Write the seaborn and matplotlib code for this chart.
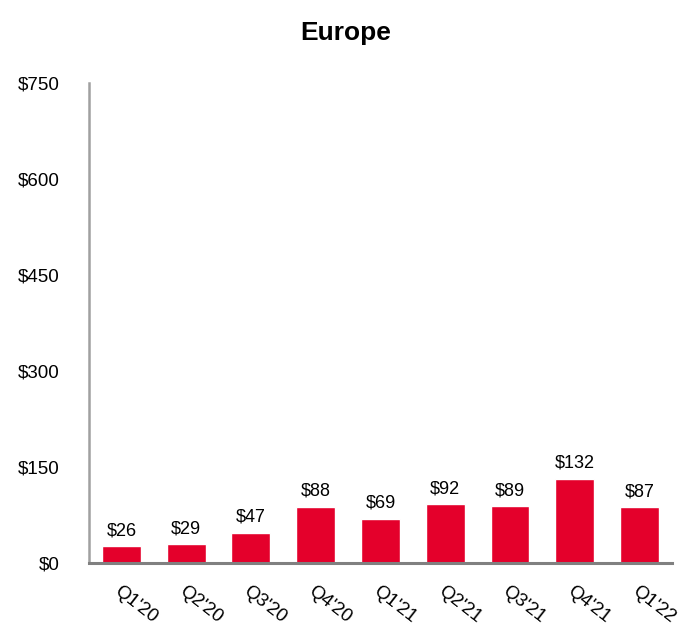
import pandas as pd
import numpy as np
import matplotlib.pyplot as plt
import seaborn as sns

# Datos del gráfico (Europa, por trimestre)
quarters = ["Q1'20", "Q2'20", "Q3'20", "Q4'20", "Q1'21", "Q2'21", "Q3'21", "Q4'21", "Q1'22"]
values = [26, 29, 47, 88, 69, 92, 89, 132, 87]
y_ticks = [0, 150, 300, 450, 600, 750]

df = pd.DataFrame({'quarter': quarters, 'value': values})

sns.set_theme(style="white")
plt.rcParams['font.family'] = ['Liberation Sans', 'DejaVu Sans']
plt.rcParams['text.color'] = 'black'
plt.rcParams['xtick.color'] = 'black'
plt.rcParams['ytick.color'] = 'black'

fig = plt.figure(figsize=(6.92, 6.4), dpi=100)
ax = fig.add_axes([0.1286, 0.1203, 0.8424, 0.75])

sns.barplot(data=df, x='quarter', y='value', color='#E4002B', width=0.6,
            saturation=1, ax=ax)

# Etiquetas de valor sobre cada barra
for i, v in enumerate(values):
    ax.text(i, v + 11, f"${v}", ha='center', va='bottom', fontsize=13, color='black')

ax.set_ylim(0, 750)
ax.set_xlim(-0.5, len(quarters) - 0.5)
ax.set_yticks(y_ticks)
ax.set_yticklabels([f"${t}" for t in y_ticks], fontsize=13.5)
ax.set_xticks(range(len(quarters)))
ax.set_xticklabels(quarters, rotation=-38, ha='left', rotation_mode='anchor', fontsize=13.5)
ax.tick_params(axis='x', pad=14, length=0)
ax.tick_params(axis='y', pad=21, length=0)
ax.set_xlabel('')
ax.set_ylabel('')

for side in ['top', 'right']:
    ax.spines[side].set_visible(False)
ax.spines['left'].set_color('#A0A0A0')
ax.spines['left'].set_linewidth(1.8)
ax.spines['bottom'].set_color('#808080')
ax.spines['bottom'].set_linewidth(2.2)

fig.suptitle('Europe', fontsize=19, fontweight='bold', y=0.967, color='black')

fig.savefig('out.png', dpi=100)
